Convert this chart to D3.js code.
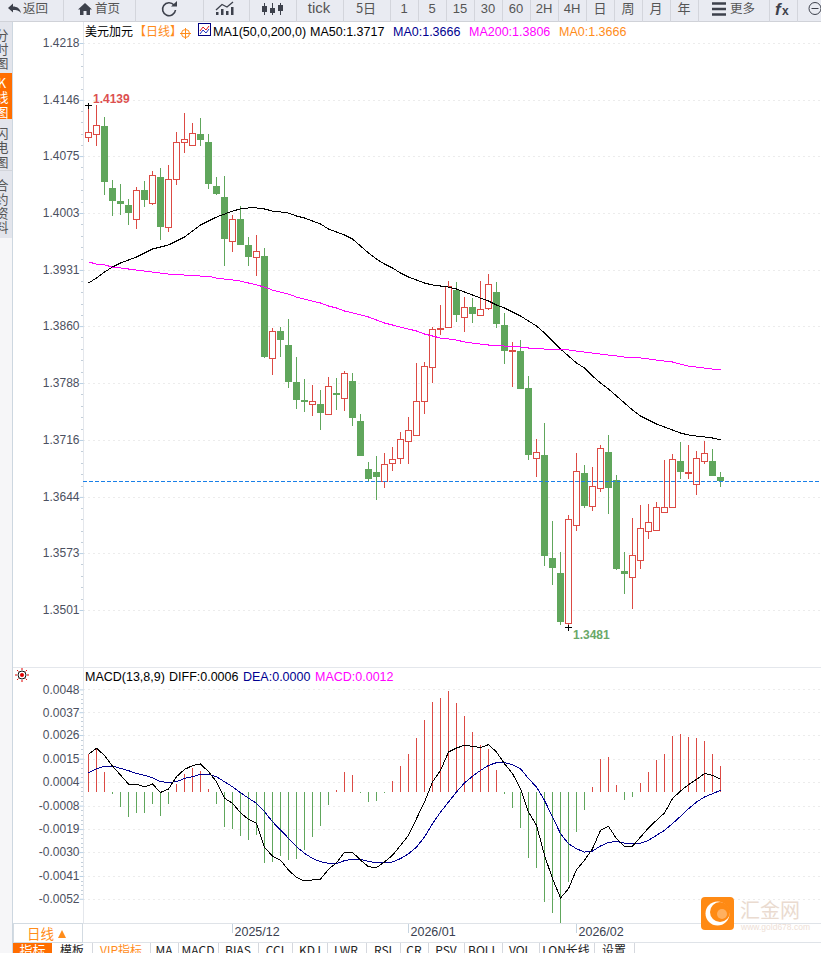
<!DOCTYPE html>
<html lang="zh">

<head>
    <meta charset="UTF-8">
    <title>美元加元 日线</title>
    <script src="https://d3js.org/d3.v7.min.js"></script>
    <style>
        html, body {
            margin: 0;
            padding: 0;
            background: #fff;
            overflow: hidden;
        }

        svg {
            display: block;
        }

        text {
            font-family: "Liberation Sans", Arial, "Noto Sans CJK SC", sans-serif;
        }

        .cjk {
            font-family: "Noto Sans CJK SC", sans-serif;
        }
    </style>
</head>

<body>
    <script>
        const width = 821
        const height = 953

        // daily candles, oldest first
        const opens = [1.40991, 1.41029, 1.41130, 1.40346, 1.40182, 1.40132, 1.39954, 1.40321, 1.40157, 1.40485,
            1.39853, 1.40460, 1.40928, 1.40890, 1.41029, 1.40928, 1.40371, 1.40232, 1.39676, 1.39954,
            1.39626, 1.39473, 1.39486, 1.38197, 1.38538, 1.38361, 1.37893, 1.37666, 1.37615, 1.37615,
            1.37488, 1.37754, 1.37691, 1.37905, 1.37400, 1.36793, 1.36755, 1.36641, 1.36869, 1.36932,
            1.37147, 1.37223, 1.37653, 1.38082, 1.38563, 1.38588, 1.39056, 1.38715, 1.38841, 1.38741,
            1.38829, 1.39031, 1.38614, 1.38285, 1.38285, 1.37817, 1.36932, 1.36970, 1.35668, 1.35478,
            1.34846, 1.36085, 1.36742, 1.36325, 1.36553, 1.37008, 1.36654, 1.35503, 1.35427, 1.35642,
            1.36009, 1.36022, 1.36250, 1.36312, 1.36894, 1.36742, 1.36603, 1.36894, 1.36894, 1.36691]
        const highs = [1.41396, 1.41396, 1.41244, 1.40447, 1.40396, 1.40207, 1.40358, 1.40434, 1.40561, 1.40599,
            1.40637, 1.41055, 1.41295, 1.41168, 1.41232, 1.41029, 1.40485, 1.40498, 1.40005, 1.40119,
            1.39726, 1.39752, 1.39588, 1.38576, 1.38588, 1.38690, 1.38209, 1.37931, 1.37855, 1.37792,
            1.37956, 1.37944, 1.38032, 1.38007, 1.37488, 1.36882, 1.36957, 1.36995, 1.37071, 1.37261,
            1.37450, 1.38133, 1.38146, 1.38588, 1.38867, 1.39170, 1.39158, 1.38967, 1.38955, 1.39170,
            1.39258, 1.39158, 1.38766, 1.38399, 1.38424, 1.37969, 1.37172, 1.37375, 1.36135, 1.35744,
            1.36212, 1.36995, 1.36844, 1.36818, 1.37097, 1.37223, 1.36717, 1.35744, 1.36173, 1.36338,
            1.36350, 1.36376, 1.36907, 1.36982, 1.37135, 1.37097, 1.37020, 1.37147, 1.37046, 1.36755]
        const lows = [1.40928, 1.40877, 1.40258, 1.39992, 1.40005, 1.39879, 1.39828, 1.40106, 1.40132, 1.39689,
            1.39790, 1.40384, 1.40789, 1.40877, 1.40877, 1.40333, 1.40258, 1.39360, 1.39537, 1.39626,
            1.39360, 1.39233, 1.38197, 1.37982, 1.38209, 1.37817, 1.37552, 1.37514, 1.37463, 1.37286,
            1.37476, 1.37539, 1.37526, 1.37337, 1.36957, 1.36641, 1.36401, 1.36553, 1.36767, 1.36856,
            1.36856, 1.37223, 1.37488, 1.37880, 1.38488, 1.38588, 1.38652, 1.38526, 1.38639, 1.38728,
            1.38804, 1.38576, 1.38120, 1.37829, 1.37804, 1.36907, 1.36691, 1.35566, 1.35326, 1.34821,
            1.34795, 1.36009, 1.36300, 1.36262, 1.36502, 1.36224, 1.35516, 1.35212, 1.35023, 1.35529,
            1.35908, 1.36009, 1.36250, 1.36300, 1.36666, 1.36666, 1.36464, 1.36856, 1.36704, 1.36565]
        const closes = [1.41055, 1.41143, 1.40422, 1.40182, 1.40144, 1.40030, 1.40321, 1.40195, 1.40511, 1.39853,
            1.40460, 1.40928, 1.40966, 1.41042, 1.40953, 1.40396, 1.40270, 1.39701, 1.39954, 1.39626,
            1.39473, 1.39549, 1.38209, 1.38538, 1.38424, 1.37893, 1.37666, 1.37641, 1.37653, 1.37501,
            1.37842, 1.37729, 1.38007, 1.37438, 1.36957, 1.36666, 1.36691, 1.36856, 1.36919, 1.37172,
            1.37286, 1.37653, 1.38095, 1.38563, 1.38576, 1.39107, 1.38741, 1.38841, 1.38753, 1.38816,
            1.39132, 1.38626, 1.38285, 1.38298, 1.37804, 1.36970, 1.37008, 1.35693, 1.35541, 1.34859,
            1.36161, 1.36767, 1.36325, 1.36578, 1.37059, 1.36553, 1.35529, 1.35465, 1.35706, 1.36047,
            1.36123, 1.36312, 1.36312, 1.36919, 1.36755, 1.36755, 1.36932, 1.36995, 1.36704, 1.36641]

        const ma50 = [1.39145, 1.39208, 1.39284, 1.39347, 1.39398, 1.39436, 1.39473, 1.39524, 1.39575, 1.39600,
            1.39626, 1.39676, 1.39726, 1.39802, 1.39879, 1.39929, 1.39979, 1.40017, 1.40055, 1.40081,
            1.40094, 1.40094, 1.40081, 1.40055, 1.40043, 1.40030, 1.39992, 1.39967, 1.39929, 1.39891,
            1.39828, 1.39790, 1.39752, 1.39701, 1.39613, 1.39524, 1.39448, 1.39385, 1.39335, 1.39271,
            1.39221, 1.39183, 1.39145, 1.39120, 1.39107, 1.39094, 1.39069, 1.39031, 1.38993, 1.38955,
            1.38917, 1.38867, 1.38829, 1.38779, 1.38728, 1.38665, 1.38601, 1.38513, 1.38411, 1.38310,
            1.38222, 1.38133, 1.38070, 1.37969, 1.37880, 1.37804, 1.37716, 1.37628, 1.37539, 1.37463,
            1.37413, 1.37362, 1.37324, 1.37286, 1.37248, 1.37223, 1.37210, 1.37198, 1.37185, 1.37160]
        const ma200 = [1.39411, 1.39385, 1.39373, 1.39347, 1.39335, 1.39322, 1.39309, 1.39296, 1.39284, 1.39271,
            1.39258, 1.39258, 1.39246, 1.39246, 1.39233, 1.39233, 1.39208, 1.39195, 1.39183, 1.39170,
            1.39145, 1.39120, 1.39094, 1.39056, 1.39031, 1.39005, 1.38967, 1.38942, 1.38917, 1.38892,
            1.38854, 1.38829, 1.38791, 1.38766, 1.38741, 1.38715, 1.38677, 1.38639, 1.38614, 1.38588,
            1.38563, 1.38538, 1.38500, 1.38475, 1.38449, 1.38437, 1.38424, 1.38399, 1.38386, 1.38373,
            1.38361, 1.38361, 1.38348, 1.38348, 1.38335, 1.38323, 1.38323, 1.38310, 1.38310, 1.38298,
            1.38298, 1.38285, 1.38272, 1.38259, 1.38247, 1.38234, 1.38222, 1.38209, 1.38209, 1.38197,
            1.38184, 1.38171, 1.38158, 1.38146, 1.38120, 1.38095, 1.38082, 1.38070, 1.38057, 1.38045]

        const macdBars = [0.00180, 0.00209, 0.00096, -0.00011, -0.00070, -0.00118, -0.00099, -0.00099, -0.00057, -0.00113,
            -0.00057, 0.00038, 0.00086, 0.00116, 0.00100, 0.00014, -0.00057, -0.00166, -0.00177, -0.00209,
            -0.00228, -0.00205, -0.00338, -0.00333, -0.00304, -0.00323, -0.00319, -0.00277, -0.00213, -0.00161,
            -0.00062, 0.00010, 0.00096, 0.00081, -0.00005, -0.00046, -0.00043, -0.00003, 0.00051, 0.00123,
            0.00180, 0.00256, 0.00342, 0.00428, 0.00448, 0.00481, 0.00424, 0.00362, 0.00285, 0.00223,
            0.00204, 0.00104, -0.00011, -0.00078, -0.00173, -0.00317, -0.00364, -0.00527, -0.00579, -0.00627,
            -0.00431, -0.00192, -0.00087, 0.00022, 0.00156, 0.00166, 0.00032, -0.00040, -0.00025, 0.00042,
            0.00094, 0.00151, 0.00180, 0.00266, 0.00276, 0.00261, 0.00256, 0.00242, 0.00180, 0.00123]
        const diff = [0.00180, 0.00209, 0.00174, 0.00124, 0.00081, 0.00038, 0.00038, 0.00024, 0.00038, -0.00002,
            0.00014, 0.00073, 0.00108, 0.00126, 0.00134, 0.00097, 0.00049, -0.00030, -0.00054, -0.00099,
            -0.00131, -0.00150, -0.00264, -0.00306, -0.00325, -0.00373, -0.00408, -0.00425, -0.00420, -0.00416,
            -0.00369, -0.00338, -0.00288, -0.00288, -0.00325, -0.00357, -0.00361, -0.00334, -0.00302, -0.00255,
            -0.00207, -0.00127, -0.00048, 0.00048, 0.00103, 0.00191, 0.00210, 0.00223, 0.00218, 0.00212,
            0.00226, 0.00191, 0.00135, 0.00088, 0.00016, -0.00096, -0.00159, -0.00302, -0.00414, -0.00506,
            -0.00462, -0.00371, -0.00326, -0.00271, -0.00183, -0.00164, -0.00223, -0.00259, -0.00259, -0.00215,
            -0.00172, -0.00135, -0.00100, -0.00032, 0.00005, 0.00035, 0.00060, 0.00088, 0.00080, 0.00060]
        const dea = [0.00092, 0.00111, 0.00123, 0.00124, 0.00113, 0.00102, 0.00088, 0.00080, 0.00068, 0.00049,
            0.00046, 0.00049, 0.00065, 0.00073, 0.00084, 0.00084, 0.00073, 0.00049, 0.00025, -0.00003,
            -0.00030, -0.00054, -0.00094, -0.00142, -0.00181, -0.00221, -0.00261, -0.00293, -0.00317, -0.00333,
            -0.00341, -0.00341, -0.00328, -0.00320, -0.00322, -0.00331, -0.00339, -0.00339, -0.00334, -0.00318,
            -0.00295, -0.00263, -0.00215, -0.00151, -0.00096, -0.00048, 0.00000, 0.00043, 0.00075, 0.00103,
            0.00127, 0.00140, 0.00140, 0.00131, 0.00111, 0.00064, 0.00024, -0.00040, -0.00119, -0.00199,
            -0.00247, -0.00271, -0.00287, -0.00282, -0.00258, -0.00240, -0.00237, -0.00244, -0.00247, -0.00244,
            -0.00231, -0.00207, -0.00183, -0.00151, -0.00116, -0.00080, -0.00048, -0.00024, -0.00008, 0.00008]

        const priceTicks = [1.4218, 1.4146, 1.4075, 1.4003, 1.3931, 1.3860, 1.3788, 1.3716, 1.3644, 1.3573, 1.3501]
        // the site rounds its labels, the lines sit a little off the rounded number
        const macdTicks = [0.00490, 0.00381, 0.00272, 0.00159, 0.00049, -0.00065, -0.00177, -0.00287, -0.00401, -0.00510]
        const macdTickLabels = ["0.0048", "0.0037", "0.0026", "0.0015", "0.0004", "-0.0008", "-0.0019", "-0.0030", "-0.0041", "-0.0052"]
        const dateIndex = [18, 40, 61]
        const dateLabels = ["2025/12", "2026/01", "2026/02"]

        const toolbarSeps = [63, 135, 203, 249, 296, 343, 390, 418, 446, 474, 502, 530, 558, 586, 614, 642, 670, 698, 769, 797]
        const periods = [["tick", 319, 15], ["5日", 366, 13], ["1", 404, 13], ["5", 432, 13], ["15", 460, 13], ["30", 488, 13], ["60", 516, 13],
            ["2H", 544, 13], ["4H", 572, 13], ["日", 600, 13], ["周", 628, 13], ["月", 656, 13], ["年", 684, 13]]
        const sideTabs = [["分", 35], ["时", 49], ["图", 63], ["K", 83], ["线", 97], ["图", 112], ["闪", 133], ["电", 147], ["图", 162], ["合", 185], ["约", 199], ["资", 213], ["料", 227]]
        const bottomTabs = [["模板", 72, 92], ["VIP指标", 121, 150], ["MA", 164, 178], ["MACD", 198, 218], ["BIAS", 238, 258], ["CCI", 275, 292], ["KDJ", 310, 327],
            ["LWR", 346, 366], ["RSI", 383, 400], ["CR", 414, 428], ["PSV", 446, 464], ["BOLL", 483, 502], ["VOL", 520, 539], ["LON长线", 566, 594], ["设置", 614, 634]]

        const red = "#dc4a44"
        const green = "#60a65c"
        const orange = "#ff8c1a"
        const navy = "#000090"
        const magenta = "#ff00ff"

        const svg = d3.select("body").append("svg")
            .attr("width", width)
            .attr("height", height)
            .attr("viewBox", `0 0 ${width} ${height}`)

        const x = d3.scaleLinear().domain([0, 79]).range([88.5, 720.5])
        const y = d3.scaleLinear().domain([1.4218, 1.3501]).range([43, 610])
        const yMacd = d3.scaleLinear().domain([0, -0.01]).range([792, 1001.4])

        // ---- frame -----
        svg.append("rect").attr("x", 0).attr("y", 22).attr("width", 12).attr("height", height - 22).attr("fill", "#f6f6f8")
        svg.append("rect").attr("x", 0).attr("y", 22).attr("width", 12).attr("height", 216).attr("fill", "#e3e5ec")
        svg.append("rect").attr("x", 0).attr("y", 73).attr("width", 12).attr("height", 46).attr("fill", "#ff6d00")
        svg.append("line").attr("x1", 12.5).attr("x2", 12.5).attr("y1", 22).attr("y2", height).attr("stroke", "#cdd7e0")
        svg.append("line").attr("x1", 0).attr("x2", 12).attr("y1", 170.5).attr("y2", 170.5).attr("stroke", "#d2d4da")

        svg.selectAll(".side").data(sideTabs).enter().append("text")
            .attr("class", "cjk")
            .attr("x", 2)
            .attr("y", d => d[1] + 4.5)
            .attr("text-anchor", "middle")
            .attr("font-size", 13)
            .attr("fill", (d, i) => i >= 3 && i <= 5 ? "#fff" : "#555")
            .text(d => d[0])

        // ---- grids and axes ----
        const gridLine = (ys) => svg.append("g").selectAll("line").data(ys).enter().append("line")
            .attr("x1", 83).attr("x2", width)
            .attr("y1", d => Math.round(d) + .5).attr("y2", d => Math.round(d) + .5)
            .attr("stroke", "#ececec")
            .attr("stroke-dasharray", "2,3")

        gridLine(priceTicks.map(d => y(d)))
        gridLine(macdTicks.map(d => yMacd(d)))

        svg.append("line").attr("x1", 83.5).attr("x2", 83.5).attr("y1", 22).attr("y2", 923).attr("stroke", "#e4e7ec")
        svg.append("line").attr("x1", 13).attr("x2", width).attr("y1", 667.5).attr("y2", 667.5).attr("stroke", "#e4e7ec")

        function drawAxis(scale, ticks, labels) {
            const axis = d3.axisLeft(scale).tickValues(ticks).tickSize(4).tickPadding(0)
                .tickFormat((d, i) => labels[i])
            const g = svg.append("g").attr("transform", "translate(83.5,0)").call(axis)
            g.select(".domain").remove()
            g.selectAll("line").attr("stroke", "#b9d0e4")
            g.selectAll("text")
                .attr("fill", "#4b5060")
                .attr("font-size", 12)
                .attr("font-family", "Liberation Sans")

            // small ticks between the labels
            const minor = []
            d3.pairs(ticks).forEach(p => [1, 2, 3, 4].forEach(k => minor.push(p[0] + (p[1] - p[0]) * k / 5)))
            svg.append("g").selectAll("line").data(minor).enter().append("line")
                .attr("x1", 81).attr("x2", 83)
                .attr("y1", d => Math.round(scale(d)) + .5).attr("y2", d => Math.round(scale(d)) + .5)
                .attr("stroke", "#c3cfda")
        }
        drawAxis(y, priceTicks, priceTicks.map(d => d.toFixed(4)))
        drawAxis(yMacd, macdTicks, macdTickLabels)

        // ---- candles ----
        const candles = svg.append("g").selectAll("g")
            .data(opens.map((o, i) => ({ i, o, h: highs[i], l: lows[i], c: closes[i] })))
            .enter().append("g")
            .attr("shape-rendering", "crispEdges")

        candles.append("line")
            .attr("x1", d => x(d.i)).attr("x2", d => x(d.i))
            .attr("y1", d => Math.round(y(d.h))).attr("y2", d => Math.round(y(d.l)))
            .attr("stroke", d => d.c >= d.o ? red : green)

        candles.append("rect")
            .attr("x", d => d.c >= d.o ? x(d.i) - 3 : x(d.i) - 3.5)
            .attr("width", d => d.c >= d.o ? 6 : 7)
            .attr("y", d => Math.round(y(Math.max(d.o, d.c))) + (d.c >= d.o ? .5 : 0))
            .attr("height", d => Math.max(Math.round(y(Math.min(d.o, d.c))) - Math.round(y(Math.max(d.o, d.c))), 1))
            .attr("fill", d => d.c >= d.o ? "#fff" : green)
            .attr("stroke", d => d.c >= d.o ? red : "none")

        // ---- moving averages ----
        const priceLine = d3.line().x((d, i) => x(i)).y(d => y(d))
        svg.append("path").attr("d", priceLine(ma50)).attr("fill", "none").attr("stroke", "#000").attr("shape-rendering", "crispEdges")
        svg.append("path").attr("d", priceLine(ma200)).attr("fill", "none").attr("stroke", magenta).attr("shape-rendering", "crispEdges")

        // last price
        svg.append("line")
            .attr("x1", 83).attr("x2", width)
            .attr("y1", Math.round(y(closes[79])) + .5).attr("y2", Math.round(y(closes[79])) + .5)
            .attr("stroke", "#1a80e8")
            .attr("stroke-dasharray", "4,2")

        // high / low marks
        const hiIdx = d3.maxIndex(highs)
        const loIdx = d3.minIndex(lows)
        const cross = (cx, cy) => svg.append("path")
            .attr("d", `M${cx - 3.5},${cy}H${cx + 3.5}M${cx},${cy - 3}V${cy + 3}`)
            .attr("stroke", "#000").attr("fill", "none").attr("shape-rendering", "crispEdges")
        cross(x(hiIdx), Math.round(y(highs[hiIdx])) + .5)
        cross(x(loIdx), Math.round(y(lows[loIdx])) + .5)

        svg.append("text").attr("x", 93).attr("y", 103).attr("font-size", 12).attr("font-weight", "bold").attr("fill", "#dc5050").text("1.4139")
        svg.append("text").attr("x", 573).attr("y", 639).attr("font-size", 12).attr("font-weight", "bold").attr("fill", "#6aa868").text("1.3481")

        // ---- MACD ----
        svg.append("g").selectAll("line").data(macdBars).enter().append("line")
            .attr("shape-rendering", "crispEdges")
            .attr("x1", (d, i) => x(i)).attr("x2", (d, i) => x(i))
            .attr("y1", yMacd(0)).attr("y2", d => Math.round(yMacd(d)))
            .attr("stroke", d => d >= 0 ? red : green)

        const macdLine = d3.line().x((d, i) => x(i)).y(d => yMacd(d))
        svg.append("path").attr("d", macdLine(dea)).attr("fill", "none").attr("stroke", navy).attr("shape-rendering", "crispEdges")
        svg.append("path").attr("d", macdLine(diff)).attr("fill", "none").attr("stroke", "#000").attr("shape-rendering", "crispEdges")

        // ---- headers ----
        function label(tx, ty, str, color, size) {
            return svg.append("text").attr("x", tx).attr("y", ty).attr("font-size", size || 12.5).attr("fill", color).text(str)
        }
        label(85, 36, "美元加元", "#000", 12).attr("class", "cjk")
        label(134, 36, "【日线】", orange, 12).attr("class", "cjk")
        svg.append("circle").attr("cx", 185.5).attr("cy", 33.5).attr("r", 4).attr("fill", "none").attr("stroke", orange)
        svg.append("path").attr("d", "M180,33.5H191M185.5,28V39").attr("stroke", orange).attr("fill", "none")

        // small MA1 picture
        svg.append("rect").attr("x", 198.5).attr("y", 23.5).attr("width", 12).attr("height", 12).attr("fill", "#fff").attr("stroke", "#000080")
        svg.append("path").attr("d", "M200,31L203,27L206,30L209,26").attr("stroke", "#e02020").attr("fill", "none")
        svg.append("path").attr("d", "M200,34L203,30L206,33L209,29").attr("stroke", "#2030c0").attr("fill", "none")

        label(213, 36, "MA1(50,0,200,0)", "#000")
        label(310, 36, "MA50:1.3717", "#000")
        label(393, 36, "MA0:1.3666", navy)
        label(469, 36, "MA200:1.3806", magenta)
        label(559, 36, "MA0:1.3666", orange)

        label(85, 681, "MACD(13,8,9)", "#000")
        label(169, 681, "DIFF:0.0006", "#000")
        label(243, 681, "DEA:0.0000", navy)
        label(315, 681, "MACD:0.0012", magenta)

        // sun marker beside the MACD header
        svg.append("circle").attr("cx", 22).attr("cy", 675).attr("r", 4).attr("fill", "#fff").attr("stroke", "#111")
        svg.append("circle").attr("cx", 22).attr("cy", 675).attr("r", 2).attr("fill", "#e00000")
        svg.append("g").selectAll("line").data(d3.range(8)).enter().append("line")
            .attr("x1", d => 22 + 5 * Math.cos(d * Math.PI / 4)).attr("y1", d => 675 + 5 * Math.sin(d * Math.PI / 4))
            .attr("x2", d => 22 + 7 * Math.cos(d * Math.PI / 4)).attr("y2", d => 675 + 7 * Math.sin(d * Math.PI / 4))
            .attr("stroke", "#e00000")

        // ---- date axis ----
        svg.append("line").attr("x1", 13).attr("x2", width).attr("y1", 923.5).attr("y2", 923.5).attr("stroke", "#dfe3e8")
        svg.append("line").attr("x1", 13).attr("x2", width).attr("y1", 942.5).attr("y2", 942.5).attr("stroke", "#dfe3e8")
        svg.append("rect").attr("x", 13.5).attr("y", 923.5).attr("width", 69).attr("height", 19).attr("fill", "#fff").attr("stroke", "#d3dbe2")
        label(27, 939, "日线", orange, 13.5).attr("class", "cjk")
        svg.append("path").attr("d", "M58,938L62,930L66,938Z").attr("fill", orange)

        svg.append("g").selectAll("line").data(dateIndex).enter().append("line")
            .attr("x1", d => x(d)).attr("x2", d => x(d))
            .attr("y1", 924).attr("y2", 933)
            .attr("stroke", "#c6d4e0")
        svg.append("g").selectAll("text").data(dateLabels).enter().append("text")
            .attr("x", (d, i) => x(dateIndex[i]) + 2)
            .attr("y", 936)
            .attr("font-size", 12.5)
            .attr("fill", "#3a3f50")
            .text(d => d)

        // ---- bottom tabs, cut by the window ----
        svg.append("rect").attr("x", 13).attr("y", 943).attr("width", 39).attr("height", 10).attr("fill", "#ff6d00")
        label(32.5, 955, "指标", "#fff", 13).attr("class", "cjk").attr("text-anchor", "middle")
        const tabs = svg.append("g").selectAll("g").data(bottomTabs).enter().append("g")
        tabs.append("text")
            .attr("class", "cjk")
            .attr("x", d => d[1]).attr("y", 955)
            .attr("text-anchor", "middle")
            .attr("font-size", 12)
            .attr("fill", (d, i) => i === 1 ? orange : "#222")
            .text(d => d[0])
        tabs.append("line")
            .attr("x1", d => d[2] + .5).attr("x2", d => d[2] + .5).attr("y1", 943).attr("y2", height)
            .attr("stroke", "#d5d8de")

        // ---- watermark ----
        svg.append("rect").attr("x", 701).attr("y", 897).attr("width", 33).attr("height", 33).attr("rx", 4).attr("fill", "#ff8a14")
        svg.append("circle").attr("cx", 717.5).attr("cy", 913.5).attr("r", 12).attr("fill", "#fff")
        svg.append("circle").attr("cx", 720).attr("cy", 912).attr("r", 10).attr("fill", "#ff8a14")
        svg.append("circle").attr("cx", 722).attr("cy", 914).attr("r", 5).attr("fill", "#ffb060")
        label(740, 918, "汇金网", "#eadbd0", 20).attr("class", "cjk")
        label(741, 930, "www.gold678.com", "#eee0d6", 8.5)

        // ---- toolbar ----
        svg.append("rect").attr("width", width).attr("height", 22).attr("fill", "#e9ebf2")
        svg.append("line").attr("x1", 0).attr("x2", width).attr("y1", 21.5).attr("y2", 21.5).attr("stroke", "#d0d2d8")
        svg.append("g").selectAll("line").data(toolbarSeps).enter().append("line")
            .attr("x1", d => d + .5).attr("x2", d => d + .5).attr("y1", 0).attr("y2", 22)
            .attr("stroke", "#d3d5dc")

        label(23, 13, "返回", "#555", 12.5).attr("class", "cjk")
        label(95, 13, "首页", "#555", 12.5).attr("class", "cjk")
        label(730, 13, "更多", "#555", 12.5).attr("class", "cjk")
        svg.append("g").selectAll("text").data(periods).enter().append("text")
            .attr("class", d => /[日周月年]/.test(d[0]) ? "cjk" : null)
            .attr("x", d => d[1]).attr("y", 13)
            .attr("text-anchor", "middle")
            .attr("font-size", d => d[2])
            .attr("fill", "#555")
            .text(d => d[0])

        const icon = "#3d414c"
        svg.append("path").attr("d", "M8,8L13,3.5V6.5C17,6.5 20,8.5 21,13C19,10.5 16.5,10 13,10V12.5Z").attr("fill", icon)
        svg.append("path").attr("d", "M85,3L78,9.5H80V15H83.5V11H86.5V15H90V9.5H92Z").attr("fill", icon)
        svg.append("path").attr("d", "M174,5A6.5,6.5 0 1 0 175.5,10").attr("fill", "none").attr("stroke", icon).attr("stroke-width", 1.6)
        svg.append("path").attr("d", "M171,6.5H177V1Z").attr("fill", icon)
        svg.append("path").attr("d", "M216,15V12H218.5V15ZM221,15V9H223.5V15ZM226,15V11H228.5V15ZM231,15V7H233.5V15Z").attr("fill", icon)
        svg.append("path").attr("d", "M216,10L222,4.5L227,7L233,2").attr("fill", "none").attr("stroke", icon).attr("stroke-width", 1.3)
        svg.append("path").attr("d", "M264.5,3V15M272.5,3V15M280.5,3V15").attr("stroke", icon).attr("fill", "none")
        svg.append("path").attr("d", "M262,6H267V12H262ZM270,8H275V13H270ZM278,5H283V11H278Z").attr("fill", icon)
        svg.append("path").attr("d", "M712,3.5H726M712,9H726M712,14.5H726").attr("stroke", icon).attr("stroke-width", 2.4).attr("fill", "none")
        svg.append("text").attr("x", 775).attr("y", 15).attr("font-size", 17).attr("font-weight", "bold").attr("font-style", "italic")
            .attr("font-family", "Liberation Serif").attr("fill", icon).text("f")
        svg.append("text").attr("x", 782).attr("y", 15).attr("font-size", 12).attr("font-weight", "bold").attr("fill", icon).text("x")
        svg.append("circle").attr("cx", 815).attr("cy", 8.5).attr("r", 6).attr("fill", "none").attr("stroke", icon)
        svg.append("line").attr("x1", 811.5).attr("x2", 818.5).attr("y1", 8.5).attr("y2", 8.5).attr("stroke", icon)
    </script>
</body>

</html>
